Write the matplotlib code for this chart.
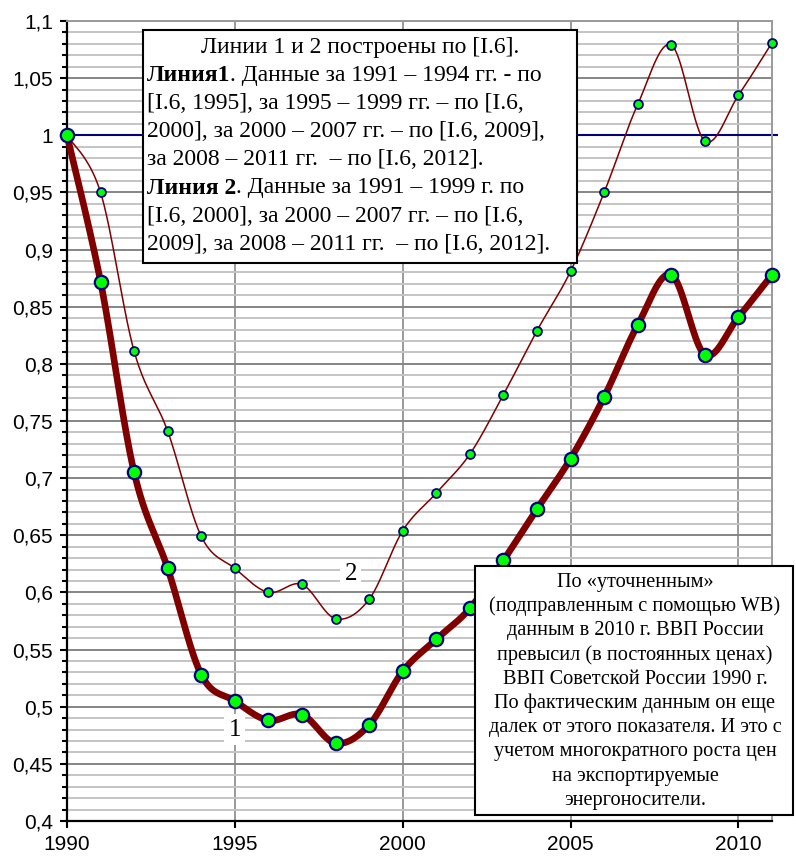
import numpy as np
import matplotlib
matplotlib.use('Agg')
import matplotlib.pyplot as plt
from matplotlib.patches import Rectangle
from matplotlib.text import Annotation
from matplotlib.ticker import MultipleLocator, FuncFormatter

# Data (index, 1990 = 1)
years = list(range(1990, 2012))
line1 = [1.0, 0.872, 0.705, 0.621, 0.528, 0.505, 0.488, 0.493, 0.468, 0.484, 0.531,
         0.559, 0.586, 0.628, 0.673, 0.717, 0.771, 0.834, 0.878, 0.808, 0.841, 0.878]
line2 = [1.0, 0.950, 0.811, 0.741, 0.649, 0.621, 0.600, 0.607, 0.577, 0.594, 0.654,
         0.687, 0.721, 0.773, 0.829, 0.881, 0.950, 1.027, 1.079, 0.995, 1.035, 1.081]
baseline = 1.0

box1_lines = [
    ('', 'Линии 1 и 2 построены по [I.6].'),
    ('Линия1', '. Данные за 1991 – 1994 гг. - по'),
    ('', '[I.6, 1995], за 1995 – 1999 гг. – по [I.6,'),
    ('', '2000], за 2000 – 2007 гг. – по [I.6, 2009],'),
    ('', 'за 2008 – 2011 гг.  – по [I.6, 2012].'),
    ('Линия 2', '. Данные за 1991 – 1999 г. по'),
    ('', '[I.6, 2000], за 2000 – 2007 гг. – по [I.6,'),
    ('', '2009], за 2008 – 2011 гг.  – по [I.6, 2012].'),
]
box2_lines = [
    'По «уточненным»',
    '(подправленным с помощью WB)',
    'данным в 2010 г. ВВП России',
    'превысил (в постоянных ценах)',
    'ВВП Советской России 1990 г.',
    'По фактическим данным он еще',
    'далек от этого показателя. И это с',
    'учетом многократного роста цен',
    'на экспортируемые',
    'энергоносители.',
]

W, H = 796, 857
SERIF = 'Liberation Serif'
SANS = 'Liberation Sans'
BOX1_FS = 17
BOX2_FS = 14.6


def fx(p):
    return p / W


def fy(p):
    return 1 - p / H


def smooth(x, y, n=40):
    # Excel-like smoothed line: cubic Bezier through points (Catmull-Rom tangents)
    x = np.asarray(x, float)
    y = np.asarray(y, float)
    px = np.concatenate([[x[0]], x, [x[-1]]])
    py = np.concatenate([[y[0]], y, [y[-1]]])
    t = np.linspace(0, 1, n)[:, None]
    segs = []
    for i in range(len(x) - 1):
        p0 = np.array([px[i], py[i]])
        p1 = np.array([px[i + 1], py[i + 1]])
        p2 = np.array([px[i + 2], py[i + 2]])
        p3 = np.array([px[i + 3], py[i + 3]])
        c1 = p1 + (p2 - p0) / 6
        c2 = p2 - (p3 - p1) / 6
        b = ((1 - t) ** 3) * p1 + 3 * ((1 - t) ** 2) * t * c1 + 3 * (1 - t) * t ** 2 * c2 + t ** 3 * p2
        segs.append(b if i == 0 else b[1:])
    s = np.vstack(segs)
    return s[:, 0], s[:, 1]


fig = plt.figure(figsize=(W / 100, H / 100), dpi=100)
ax = fig.add_axes([fx(67), fy(821), fx(772) - fx(67), fy(21) - fy(821)])

ax.set_xlim(1990, 2011)
ax.set_ylim(0.4, 1.1)

ax.yaxis.set_major_locator(MultipleLocator(0.05))
ax.yaxis.set_minor_locator(MultipleLocator(0.01))
ax.xaxis.set_major_locator(MultipleLocator(5))
ax.yaxis.set_major_formatter(FuncFormatter(lambda v, p: ('%g' % round(v, 2)).replace('.', ',')))

ax.grid(which='minor', axis='y', color='#c4c4c4', lw=1.4)
ax.grid(which='major', axis='y', color='#858585', lw=1.4)
ax.grid(which='major', axis='x', color='#9a9a9a', lw=1.4)
ax.set_axisbelow(True)

for side in ('top', 'right'):
    ax.spines[side].set_color('#9a9a9a')
    ax.spines[side].set_linewidth(1.4)
for side in ('left', 'bottom'):
    ax.spines[side].set_color('black')
    ax.spines[side].set_linewidth(1.6)

ax.tick_params(which='major', direction='out', length=5, width=1.5, pad=5,
               labelsize=15)
ax.tick_params(which='minor', axis='y', direction='out', length=3.6, width=1.5)
for lab in ax.get_xticklabels() + ax.get_yticklabels():
    lab.set_fontfamily(SANS)

# reference line at 1990 level
ax.axhline(baseline, xmin=0, xmax=1.007, color='#000080', lw=1.5, clip_on=False, zorder=2)

x2, y2 = smooth(years, line2)
ax.plot(x2, y2, color='#800000', lw=1.1, zorder=3, clip_on=False)
ax.plot(years, line2, ls='none', marker='o', ms=6.4, mfc='#00ff00', mec='#000080',
        mew=1.3, zorder=4, clip_on=False)

x1, y1 = smooth(years, line1)
ax.plot(x1, y1, color='#800000', lw=4.8, zorder=5, solid_capstyle='round', clip_on=False)
ax.plot(years, line1, ls='none', marker='o', ms=9.6, mfc='#00ff00', mec='#000080',
        mew=1.6, zorder=6, clip_on=False)

# line labels
ax.text(1995.0, 0.480, '1', fontsize=18, family=SERIF, ha='center', va='center', zorder=7,
        bbox=dict(facecolor='white', edgecolor='none', pad=3))
ax.text(1998.45, 0.616, '2', fontsize=18, family=SERIF, ha='center', va='center', zorder=7,
        bbox=dict(facecolor='white', edgecolor='none', pad=3))

# box 1
fig.patches.append(Rectangle((fx(143), fy(263)), fx(577) - fx(143), fy(30) - fy(263),
                             transform=fig.transFigure, facecolor='white', edgecolor='black',
                             lw=1.5, zorder=10))
for i, (bold, rest) in enumerate(box1_lines):
    yb = fy(53 + 28.1 * i)
    if i == 0:
        fig.text(fx(360), yb, rest, fontsize=BOX1_FS, family=SERIF, ha='center',
                 va='baseline', zorder=11)
    elif bold:
        t = fig.text(fx(147), yb, bold, fontsize=BOX1_FS, family=SERIF, fontweight='bold',
                     ha='left', va='baseline', zorder=11)
        fig.add_artist(Annotation(rest, xy=(1, 0), xycoords=t, fontsize=BOX1_FS,
                                  family=SERIF, ha='left', va='bottom', zorder=11))
    else:
        fig.text(fx(147), yb, rest, fontsize=BOX1_FS, family=SERIF, ha='left',
                 va='baseline', zorder=11)

# box 2
fig.patches.append(Rectangle((fx(475), fy(815)), fx(793) - fx(475), fy(566) - fy(815),
                             transform=fig.transFigure, facecolor='white', edgecolor='black',
                             lw=1.5, zorder=10))
for i, s in enumerate(box2_lines):
    fig.text(fx(635), fy(587 + 24.2 * i), s, fontsize=BOX2_FS, family=SERIF, ha='center',
             va='baseline', zorder=11)

fig.savefig('out.png', dpi=100)
